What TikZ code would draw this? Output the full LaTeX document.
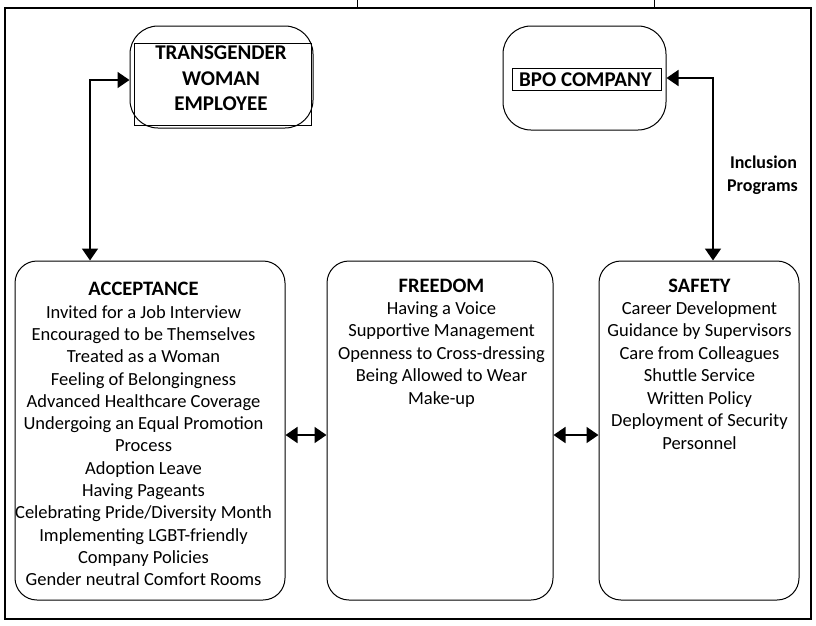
\documentclass[tikz,border=0pt]{standalone}
\usepackage{fontspec}
\setmainfont{Carlito}
\usetikzlibrary{arrows.meta}
\begin{document}
\begin{tikzpicture}[x=1pt,y=-1pt,
  bigbox/.style={draw, line width=1pt, rounded corners=22pt, inner sep=0pt},
  topbox/.style={draw, line width=1pt, rounded corners=28pt, inner sep=0pt},
  innerbox/.style={draw, line width=0.9pt, inner sep=0pt},
  ttl/.style={font=\fontsize{20.5}{24}\selectfont\bfseries, anchor=base, inner sep=0pt},
  txt/.style={font=\fontsize{18.5}{22}\selectfont, anchor=base, inner sep=0pt},
  lbl/.style={font=\fontsize{21}{25}\selectfont\bfseries, anchor=base, inner sep=0pt},
  sidelbl/.style={font=\fontsize{18}{22}\selectfont\bfseries, anchor=base, inner sep=0pt},
  conn/.style={line width=1.7pt, {Triangle[length=12pt,width=16pt]}-{Triangle[length=12pt,width=16pt]}}
]
\useasboundingbox (0,0) rectangle (816,625);
% outer frame and top fragments
\draw[line width=1.3pt] (5,8) rectangle (811,619);
\draw[line width=1pt] (357,0) -- (357,8);
\draw[line width=1pt] (654,0) -- (654,8);

% top boxes
\node[topbox, minimum width=183pt, minimum height=102pt] (tg) at (221.5,77) {};
\node[innerbox, minimum width=177pt, minimum height=82pt] (tgin) at (222.5,84) {};
\node[lbl] (tg1) at (221,59) {TRANSGENDER};
\node[lbl] (tg2) at (221,85) {WOMAN};
\node[lbl] (tg3) at (221,110) {EMPLOYEE};

\node[topbox, minimum width=163pt, minimum height=104pt] (bpo) at (584.5,78) {};
\node[innerbox, minimum width=149pt, minimum height=22pt] (bpoin) at (586.5,79) {};
\node[lbl] (bpot) at (585.5,86) {BPO COMPANY};

\node[sidelbl] (inc1) at (763.5,168) {Inclusion};
\node[sidelbl] (inc2) at (762.5,191) {Programs};

% main boxes
\node[bigbox, minimum width=270pt, minimum height=339pt] (acc) at (150,430.5) {};
\node[bigbox, minimum width=226pt, minimum height=339pt] (free) at (440,430.5) {};
\node[bigbox, minimum width=200pt, minimum height=339pt] (safe) at (699,430.5) {};

\node[ttl] (acct) at (143.5,295) {ACCEPTANCE};
\foreach \t [count=\i] in {Invited for a Job Interview, Encouraged to be Themselves,
  Treated as a Woman, Feeling of Belongingness, Advanced Healthcare Coverage,
  Undergoing an Equal Promotion, Process, Adoption Leave, Having Pageants,
  Celebrating Pride/Diversity Month, Implementing LGBT-friendly,
  Company Policies, Gender neutral Comfort Rooms}
  \node[txt] (acc\i) at (143.5,{318+22.33*(\i-1)}) {\t};

\node[ttl] (freet) at (441.5,292) {FREEDOM};
\foreach \t [count=\i] in {Having a Voice, Supportive Management,
  Openness to Cross-dressing, Being Allowed to Wear, Make-up}
  \node[txt] (free\i) at (441.5,{314+22.5*(\i-1)}) {\t};

\node[ttl] (safet) at (699.5,292) {SAFETY};
\foreach \t [count=\i] in {Career Development, Guidance by Supervisors,
  Care from Colleagues, Shuttle Service, Written Policy,
  Deployment of Security, Personnel}
  \node[txt] (safe\i) at (699.5,{314+22.5*(\i-1)}) {\t};

% connectors
\draw[conn] ([yshift=-3pt]tg.west) -| ([xshift=-60pt]acc.north);
\draw[conn] (bpo.east) -| ([xshift=14pt]safe.north);
\draw[conn] ([yshift=-4.5pt]acc.east) -- ([yshift=-4.5pt]free.west);
\draw[conn] ([yshift=-4.5pt]free.east) -- ([yshift=-4.5pt]safe.west);
\end{tikzpicture}
\end{document}
